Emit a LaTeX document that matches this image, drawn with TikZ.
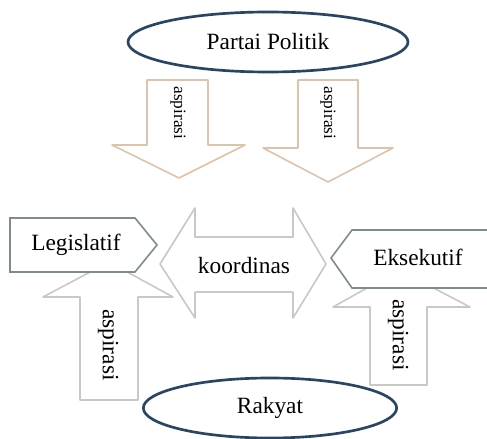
\documentclass[tikz,border=0pt]{standalone}
\usepackage{fontspec}
\setmainfont{Liberation Serif}
\usetikzlibrary{shapes.geometric}
\definecolor{garisbiru}{RGB}{40,70,100}
\definecolor{garisabu}{RGB}{125,140,140}
\definecolor{panahabu}{RGB}{200,200,198}
\definecolor{panahcoklat}{RGB}{222,195,170}
\tikzset{
  elips/.style={draw=garisbiru, line width=2pt, ellipse, inner sep=0pt, fill=white},
  kotak/.style={draw=garisabu, line width=1.2pt, fill=white, line join=miter},
  panah/.style={draw=panahabu, line width=1.2pt, fill=white, line join=round},
  panahatas/.style={draw=panahcoklat, line width=1.2pt, fill=white, line join=round},
  teks/.style={font=\fontsize{17.5}{20}\selectfont},
  tekskecil/.style={font=\fontsize{13}{15}\selectfont}
}
\begin{document}
\begin{tikzpicture}[x=0.75pt,y=-0.75pt]
                \useasboundingbox (0,0) rectangle (487,439);
                \node[elips, minimum width=210pt, minimum height=45pt, teks] (partai) at (268,42) {Partai Politik};
                \draw[panahatas] (147,80) -- (208,80) -- (208,145) -- (245,145) -- (179,178) -- (112,145) -- (147,145) -- cycle;
                \node[rotate=-90, tekskecil] (aspkiri) at (178,113) {aspirasi};
                \draw[panahatas] (298,80) -- (358,80) -- (358,148) -- (393,148) -- (328,182) -- (263,148) -- (298,148) -- cycle;
                \node[rotate=-90, tekskecil] (aspkanan) at (328,113) {aspirasi};
                \draw[panah] (80,400) -- (138,400) -- (138,297) -- (173,297) -- (109,262) -- (43,297) -- (80,297) -- cycle;
                \node[rotate=-90, teks] (asplegis) at (108,345) {aspirasi};
                \draw[panah] (370,385) -- (427,385) -- (427,307) -- (470,307) -- (399,270) -- (333,307) -- (370,307) -- cycle;
                \node[rotate=-90, teks] (aspeks) at (398,335) {aspirasi};
                \draw[kotak] (10,218) -- (135,218) -- (157,245) -- (135,272) -- (10,272) -- cycle;
                \node[teks] (legislatif) at (76,245) {Legislatif};
                \draw[kotak] (490,230) -- (352,230) -- (331,258) -- (352,288) -- (490,288);
                \node[teks] (eksekutif) at (418,257) {Eksekutif};
                \draw[panah] (160,264) -- (195,208) -- (195,237) -- (293,237) -- (293,208) -- (326,264) -- (293,318) -- (293,292) -- (195,292) -- (195,318) -- cycle;
                \node[teks] (koordinas) at (244,266) {koordinas};
                \node[elips, minimum width=190pt, minimum height=45pt, teks] (rakyat) at (270,408) {Rakyat};
            \end{tikzpicture}
\end{document}
